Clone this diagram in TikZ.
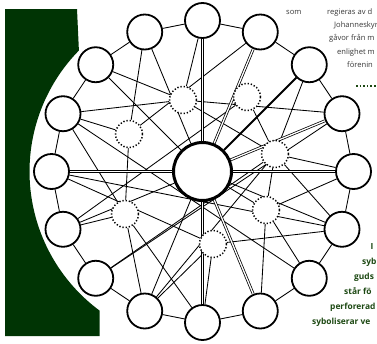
\documentclass[tikz,border=0pt]{standalone}
\usepackage{fontspec}
\newfontfamily\txtfont{Open Sans}
\usetikzlibrary{calc,backgrounds}
\definecolor{dkgreen}{RGB}{0,52,4}
\definecolor{txtgreen}{RGB}{28,72,18}
\definecolor{txtgray}{RGB}{55,55,55}
\begin{document}
\begin{tikzpicture}[x=1pt,y=-1pt,
  outer/.style={circle,draw,line width=1.8pt,fill=white,minimum size=35pt,inner sep=0pt},
  hub/.style={circle,draw,line width=3pt,fill=white,minimum size=58pt,inner sep=0pt},
  dotnode/.style={circle,draw,line width=1.5pt,dash pattern=on 1.3pt off 1.9pt,fill=white,minimum size=27pt,inner sep=0pt},
  edge/.style={line width=0.85pt},
  dbl/.style={line width=0.75pt,double=white,double distance=1.3pt},
  heavy/.style={line width=1.9pt},
  toptext/.style={font=\txtfont\fontsize{7.6}{9}\selectfont,text=txtgray,inner sep=0pt,anchor=base west},
  bottext/.style={font=\txtfont\bfseries\fontsize{8.4}{10}\selectfont,text=txtgreen,inner sep=0pt,anchor=base west}]
\path[use as bounding box,clip] (0,0) rectangle (377,343);
% green shape
\fill[dkgreen] (5,9) -- (77,9) -- (78.9,50.5) arc[start angle=135.6,end angle=233.5,radius=173pt] -- (99.6,336) -- (5,336) -- cycle;
% nodes
\coordinate (ctr) at (202.5,171.5);
\node[hub] (C) at (ctr) {};
\foreach \k in {0,...,15}
  \node[outer] (O\k) at ($(ctr)+({-90+22.5*\k}:151)$) {};
\node[dotnode] (D1) at (183,100) {};
\node[dotnode] (D2) at (247,97) {};
\node[dotnode] (D3) at (275,154) {};
\node[dotnode] (D4) at (266,210) {};
\node[dotnode] (D5) at (213,244) {};
\node[dotnode] (D6) at (125,214) {};
\node[dotnode] (D7) at (129,134) {};
% connectors
\begin{pgfonlayer}{background}
\foreach \k [evaluate=\k as \n using {int(mod(\k+1,16))}] in {0,...,15}
  \draw[edge] (O\k) -- (O\n);
\foreach \a/\b in {C/O14,C/O15,C/O5,C/D4,C/O9,C/O11,
  O14/D1,O13/D1,O0/D1,D7/O1,D1/O3,D1/D3,
  O15/D7,O13/D7,D7/D6,
  O13/D6,O11/D6,O9/D6,D6/O8,
  O11/D2,D2/D3,
  O2/D3,D3/O4,D3/O5,D3/D4,O10/D3,O9/D3,
  D4/O4,D4/O6,D4/O7,
  O9/D5,D5/O8,D5/O5,O12/D5,
  O13/O6,O12/O5,O10/O3}
  \draw[edge] (\a) -- (\b);
\foreach \b in {O0,O1,O3,O4,O7,O8,O12}
  \draw[dbl] (C) -- (\b);
\draw[heavy] (C) -- (O2);
\end{pgfonlayer}
% texts
\node[toptext] (t0) at (286,14.5) {som};
\node[toptext] (t1) at (327,14.5) {regieras av d};
\node[toptext] (t2) at (334,27.5) {Johanneskyr};
\node[toptext] (t3) at (329,40.5) {gåvor från m};
\node[toptext] (t4) at (337,54) {enlighet m};
\node[toptext] (t5) at (347,67.5) {förenin};
\draw[txtgreen,line width=1.6pt,dash pattern=on 1.6pt off 2pt] (356,86) -- (377,86);
\node[bottext] (b0) at (370.5,249) {I};
\node[bottext] (b1) at (362,264) {syb};
\node[bottext] (b2) at (354,279) {guds};
\node[bottext] (b3) at (344,294) {står fö};
\node[bottext] (b4) at (330,309) {perforerad};
\node[bottext] (b5) at (312,324) {syboliserar ve};
\end{tikzpicture}
\end{document}
